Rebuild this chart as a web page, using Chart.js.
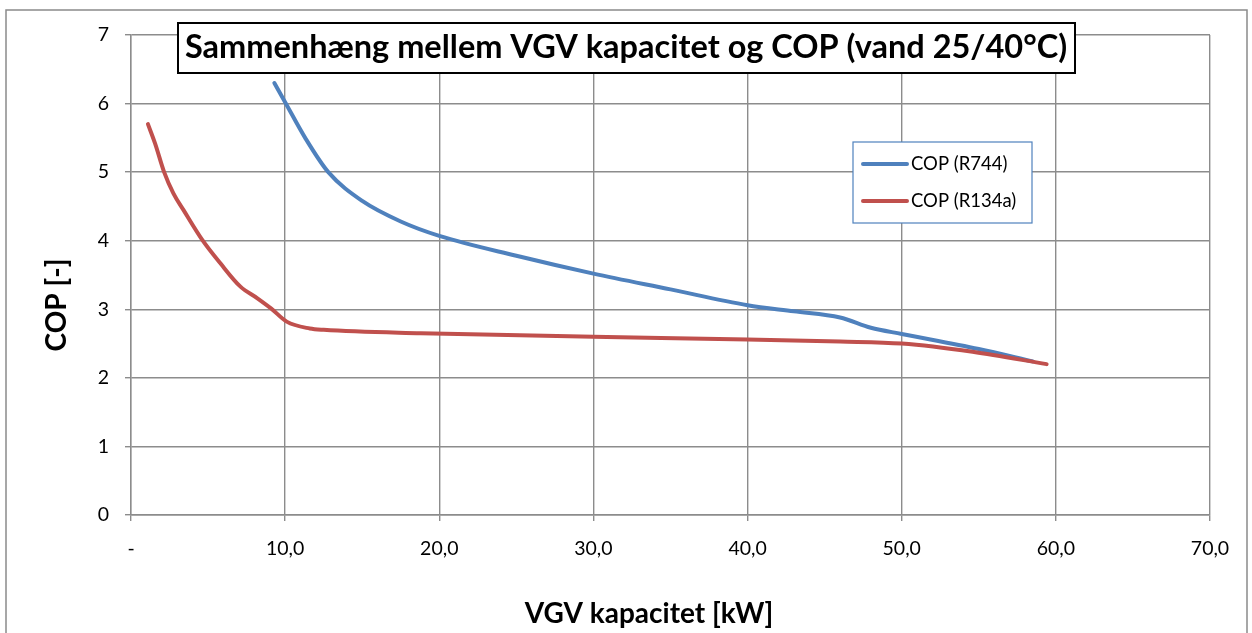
<!DOCTYPE html>
<html>
<head>
<meta charset="utf-8">
<script src="https://cdn.jsdelivr.net/npm/chart.js@4/dist/chart.umd.min.js"></script>
<style>
  html, body { margin: 0; padding: 0; background: #fff; }
  #wrap { width: 1252px; height: 633px; position: relative; }
</style>
</head>
<body>
<div id="wrap"><canvas id="chart" width="1252" height="633"></canvas></div>
<script>
// Data
const r744X  = [9.3, 10.0, 11.3, 12.8, 15.0, 17.5, 20.0, 25.0, 30.0, 35.0, 40.0, 43.0, 46.0, 48.0, 50.0, 55.0, 58.5];
const r744Y  = [6.30, 6.02, 5.50, 5.00, 4.58, 4.28, 4.07, 3.78, 3.52, 3.29, 3.06, 2.97, 2.88, 2.73, 2.64, 2.42, 2.24];
const r134aX = [1.1, 1.56, 2.15, 2.75, 3.4, 4.6, 5.8, 7.1, 8.2, 9.1, 10.1, 11.6, 12.5, 18.8, 30.0, 40.0, 46.0, 50.0, 54.6, 59.4];
const r134aY = [5.70, 5.42, 5.00, 4.69, 4.45, 4.02, 3.67, 3.33, 3.16, 3.01, 2.82, 2.72, 2.70, 2.65, 2.60, 2.56, 2.53, 2.50, 2.38, 2.20];
const seriesNames = ['COP (R744)', 'COP (R134a)'];
const xTickLabels = ['-', '10,0', '20,0', '30,0', '40,0', '50,0', '60,0', '70,0'];
const yTickLabels = ['0', '1', '2', '3', '4', '5', '6', '7'];
const chartTitle = 'Sammenhæng mellem VGV kapacitet og COP (vand 25/40°C)';
const xTitle = 'VGV kapacitet [kW]';
const yTitle = 'COP [-]';

const blue = '#4F81BD';
const red = '#C0504D';
const gridColor = '#8c8c8c';
const fontFamily = 'Lato, "Open Sans", sans-serif';

function toPoints(xs, ys) {
  return xs.map((x, i) => ({ x: x, y: ys[i] }));
}

// Frame, title box, axis titles and legend drawn around the plot
const decorations = {
  id: 'decorations',
  beforeDraw(chart) {
    const c = chart.ctx;
    c.save();
    c.fillStyle = '#fff';
    c.fillRect(0, 0, chart.width, chart.height);
    c.strokeStyle = '#8a8a8a';
    c.lineWidth = 1.5;
    c.strokeRect(6, 10, 1241, 640);
    c.restore();
  },
  afterDraw(chart) {
    const c = chart.ctx;
    c.save();

    // title box
    c.fillStyle = '#fff';
    c.fillRect(178, 23, 897, 50);
    c.strokeStyle = '#000';
    c.lineWidth = 2;
    c.strokeRect(178, 23, 897, 50);
    c.fillStyle = '#000';
    c.font = 'bold 32.5px ' + fontFamily;
    c.textAlign = 'center';
    c.textBaseline = 'middle';
    c.fillText(chartTitle, 626, 48);

    // axis titles
    c.font = 'bold 28px ' + fontFamily;
    c.fillText(xTitle, 649, 614);
    c.translate(57, 305);
    c.rotate(-Math.PI / 2);
    c.fillText(yTitle, 0, 0);
    c.setTransform(1, 0, 0, 1, 0, 0);

    // legend
    c.fillStyle = '#fff';
    c.fillRect(853, 142, 179, 81);
    c.strokeStyle = blue;
    c.lineWidth = 1.2;
    c.strokeRect(853, 142, 179, 81);
    c.font = '18.5px ' + fontFamily;
    c.textAlign = 'left';
    const rows = [164, 201];
    chart.data.datasets.forEach((ds, i) => {
      c.strokeStyle = ds.borderColor;
      c.lineWidth = 4;
      c.lineCap = 'round';
      c.beginPath();
      c.moveTo(863, rows[i]);
      c.lineTo(907, rows[i]);
      c.stroke();
      c.fillStyle = '#000';
      c.fillText(ds.label, 911, rows[i]);
    });
    c.restore();
  }
};

const ctx = document.getElementById('chart').getContext('2d');
const myChart = new Chart(ctx, {
  type: 'line',
  data: {
    datasets: [
      {
        label: seriesNames[0],
        data: toPoints(r744X, r744Y),
        borderColor: blue,
        backgroundColor: blue,
        borderWidth: 4,
        order: 1
      },
      {
        label: seriesNames[1],
        data: toPoints(r134aX, r134aY),
        borderColor: red,
        backgroundColor: red,
        borderWidth: 4,
        order: 0
      }
    ]
  },
  options: {
    responsive: false,
    animation: false,
    layout: { padding: { top: 35, right: 42, left: 0, bottom: 0 } },
    elements: {
      point: { radius: 0, hoverRadius: 0 },
      line: { cubicInterpolationMode: 'monotone', borderCapStyle: 'round', borderJoinStyle: 'round' }
    },
    plugins: {
      legend: { display: false },
      title: { display: false },
      tooltip: { enabled: false }
    },
    scales: {
      x: {
        type: 'linear',
        min: 0,
        max: 70,
        afterFit(scale) { scale.height = 118; },
        afterBuildTicks(scale) {
          scale.ticks = xTickLabels.map((t, i) => ({ value: i * 10 }));
        },
        ticks: {
          callback: (v, i) => xTickLabels[i],
          color: '#000',
          font: { family: fontFamily, size: 19.5 },
          padding: 16,
          maxRotation: 0,
          autoSkip: false
        },
        grid: { color: gridColor, lineWidth: 1.4, tickLength: 6, tickColor: gridColor },
        border: { color: gridColor, width: 1.4 }
      },
      y: {
        min: 0,
        max: 7,
        afterFit(scale) { scale.width = 131; },
        afterBuildTicks(scale) {
          scale.ticks = yTickLabels.map((t, i) => ({ value: i }));
        },
        ticks: {
          callback: (v, i) => yTickLabels[i],
          color: '#000',
          font: { family: fontFamily, size: 19.5 },
          padding: 16
        },
        grid: { color: gridColor, lineWidth: 1.4, tickLength: 6, tickColor: gridColor },
        border: { color: gridColor, width: 1.4 }
      }
    }
  },
  plugins: [decorations]
});
</script>
</body>
</html>
